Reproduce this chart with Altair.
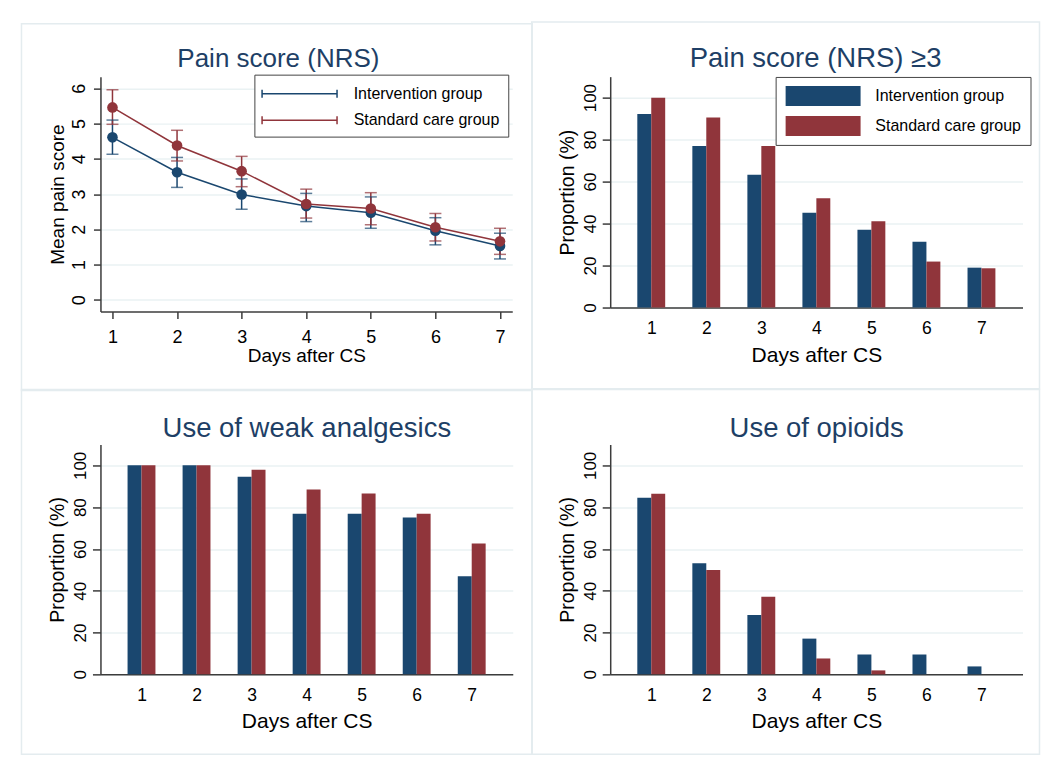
import altair as alt
import pandas as pd

# ---------------- data ----------------
days = [1, 2, 3, 4, 5, 6, 7]
groups = ["Intervention group", "Standard care group"]

pain_int_mean = [4.61, 3.62, 2.99, 2.66, 2.47, 1.96, 1.53]
pain_int_lo = [4.13, 3.19, 2.57, 2.22, 2.03, 1.56, 1.16]
pain_int_hi = [5.10, 4.04, 3.43, 3.02, 2.92, 2.33, 1.89]
pain_std_mean = [5.46, 4.38, 3.65, 2.72, 2.59, 2.06, 1.66]
pain_std_lo = [4.98, 3.94, 3.21, 2.32, 2.13, 1.67, 1.29]
pain_std_hi = [5.96, 4.81, 4.07, 3.14, 3.04, 2.45, 2.03]

nrs3_int = [92.2, 77.0, 63.3, 45.2, 37.1, 31.4, 19.0]
nrs3_std = [100.0, 90.5, 77.0, 52.1, 41.1, 21.9, 18.7]
weak_int = [100.0, 100.0, 94.5, 76.9, 76.9, 75.0, 46.9]
weak_std = [100.0, 100.0, 97.9, 88.4, 86.5, 76.9, 62.6]
opioid_int = [84.5, 53.2, 28.4, 17.1, 9.5, 9.5, 3.8]
opioid_std = [86.4, 49.9, 37.1, 7.6, 1.9, 0.0, 0.0]

pct_ticks = [0, 20, 40, 60, 80, 100]
pain_ticks = [0, 1, 2, 3, 4, 5, 6]

# ---------------- style ----------------
FONT = "Liberation Sans"
NAVY = "#1a476f"
MAROON = "#90353b"
TITLE_COLOR = "#1e3f66"
FRAME = "#e4ecef"
GRID = "#eaf2f3"
AXIS = "#3c3c3c"
BAR_W = 0.2533
SW = 1.5

dummy = pd.DataFrame({"k": [0]})
color_scale = alt.Scale(domain=groups, range=[NAVY, MAROON])


def box(l, r, t, b):
    return alt.Chart(dummy).mark_rect(fillOpacity=0, stroke=FRAME, strokeWidth=SW).encode(
        x=alt.value(l), x2=alt.value(r), y=alt.value(t), y2=alt.value(b))


def title_text(txt, x, y, size):
    return alt.Chart(dummy).mark_text(
        text=txt, font=FONT, fontSize=size, color=TITLE_COLOR,
        align="center", baseline="alphabetic").encode(x=alt.value(x), y=alt.value(y))


# ---------------- panel 1: pain score ----------------
pain = pd.DataFrame({
    "day": days * 2,
    "group": [groups[0]] * 7 + [groups[1]] * 7,
    "mean": pain_int_mean + pain_std_mean,
    "lo": pain_int_lo + pain_std_lo,
    "hi": pain_int_hi + pain_std_hi,
})

xs_tl = alt.Scale(domain=[0.814, 7.19], nice=False, zero=False)
ys_tl = alt.Scale(domain=[-0.332, 6.332], nice=False, zero=False)
ax_tl = alt.Axis(values=days, title="Days after CS", grid=False, tickSize=7,
                 labelFontSize=18, labelBaseline="alphabetic", labelPadding=23.7,
                 titleFontSize=19, titleY=50, titleBaseline="alphabetic")
ay_tl = alt.Axis(values=pain_ticks, title="Mean pain score", grid=True, tickSize=7,
                 labelFontSize=18, labelAngle=270, labelAlign="center",
                 labelBaseline="alphabetic", labelPadding=8.7,
                 titleFontSize=19, titleX=-36.7, titleBaseline="alphabetic")

legend_tl = alt.Legend(
    title=None, orient="none", legendX=154, legendY=-2, direction="vertical",
    symbolType="M-1.13,-0.4L-1.13,0.4M-1.13,0L6.37,0M6.37,-0.4L6.37,0.4",
    symbolSize=400, symbolStrokeWidth=1.5, labelFontSize=16, labelFont=FONT,
    labelColor="black", labelOffset=69.3, padding=8, rowPadding=7.7,
    strokeColor="#444444", fillColor="white")

col_leg = alt.Color("group:N", scale=color_scale, legend=legend_tl)
col_no = alt.Color("group:N", scale=color_scale, legend=None)
xq = alt.X("day:Q", scale=xs_tl, axis=ax_tl)

base = alt.Chart(pain)
err = base.mark_rule(strokeWidth=1.5).encode(
    x=xq, y=alt.Y("lo:Q", scale=ys_tl, axis=ay_tl), y2="hi:Q", color=col_leg)
cap_lo = base.mark_tick(orient="horizontal", size=12, thickness=1.5).encode(
    x=xq, y=alt.Y("lo:Q", scale=ys_tl, axis=ay_tl), color=col_no)
cap_hi = base.mark_tick(orient="horizontal", size=12, thickness=1.5).encode(
    x=xq, y=alt.Y("hi:Q", scale=ys_tl, axis=ay_tl), color=col_no)
line = base.mark_line(strokeWidth=1.5).encode(
    x=xq, y=alt.Y("mean:Q", scale=ys_tl, axis=ay_tl), color=col_no)
pts = base.mark_circle(size=113, opacity=1).encode(
    x=xq, y=alt.Y("mean:Q", scale=ys_tl, axis=ay_tl), color=col_no)

tl = alt.layer(
    box(-79, 432, -53, 314),
    title_text("Pain score (NRS)", 178, -9.5, 26),
    err, cap_lo, cap_hi, line, pts,
).properties(width=412, height=235)


# ---------------- bar panels ----------------
xs_bar = alt.Scale(domain=[0.345, 7.655], nice=False, zero=False)
ys_bar = alt.Scale(domain=[0, 110], nice=False, zero=False)


def bar_panel(int_vals, std_vals, title, box_x, box_y, title_x, title_y, height,
              legend, xtitle_y, xlabel_pad):
    df = pd.DataFrame({
        "day": days * 2,
        "group": [groups[0]] * 7 + [groups[1]] * 7,
        "value": int_vals + std_vals,
    })
    ax = alt.Axis(values=days, title="Days after CS", grid=False, ticks=False, tickSize=0,
                  labelFontSize=17.5, labelBaseline="alphabetic", labelPadding=xlabel_pad,
                  titleFontSize=21, titleY=xtitle_y, titleBaseline="alphabetic")
    ay = alt.Axis(values=pct_ticks, title="Proportion (%)", grid=True, tickSize=8,
                  labelFontSize=17, labelAngle=270, labelAlign="center",
                  labelBaseline="alphabetic", labelPadding=6.5,
                  titleFontSize=19.5, titleX=-36.6, titleBaseline="alphabetic")
    bars = alt.Chart(df).transform_calculate(
        x0=f"datum.group == '{groups[0]}' ? datum.day - {BAR_W} : datum.day",
        x1=f"datum.group == '{groups[0]}' ? datum.day : datum.day + {BAR_W}",
    ).mark_bar(orient="vertical", strokeWidth=0).encode(
        x=alt.X("x0:Q", scale=xs_bar, axis=ax),
        x2="x1:Q",
        y=alt.Y("value:Q", scale=ys_bar, axis=ay),
        color=alt.Color("group:N", scale=color_scale, legend=legend),
    )
    return alt.layer(
        box(box_x[0], box_x[1], box_y[0], box_y[1]),
        title_text(title, title_x, title_y, 27.5),
        bars,
    ).properties(width=412.5, height=height)


legend_tr = alt.Legend(
    title=None, orient="none", legendX=165.5, legendY=0.3, direction="vertical",
    symbolType="M-0.9,-1L6.6,-1L6.6,1L-0.9,1Z",
    symbolSize=400, symbolStrokeWidth=0, labelFontSize=16, labelFont=FONT,
    labelColor="black", labelOffset=70.7, padding=9, rowPadding=10,
    strokeColor="#444444", fillColor="white")

tr = bar_panel(nrs3_int, nrs3_std, "Pain score (NRS) \u22653", (-78.5, 429.5), (-54.7, 312.3),
               205.5, -10, 231, legend_tr, 54, 25.6)
bl = bar_panel(weak_int, weak_std, "Use of weak analgesics", (-79, 432), (-55, 310),
               206.5, -7, 230, None, 52.8, 26.4)
br = bar_panel(opioid_int, opioid_std, "Use of opioids", (-78.5, 429.5), (-55, 310),
               206.5, -7, 230, None, 52.8, 26.4)

chart = alt.concat(tl, tr, bl, br, columns=2, spacing=-3, align="each").resolve_scale(
    color="independent").resolve_legend(color="independent").properties(
    padding={"left": 12.5, "top": 12.5, "right": 0, "bottom": 0},
    background="white",
).configure_view(strokeWidth=0).configure_axis(
    labelFont=FONT, titleFont=FONT, labelColor="black", titleColor="black",
    titleFontWeight="normal", domainColor=AXIS, tickColor=AXIS,
    domainWidth=1.5, tickWidth=1.5, gridColor=GRID, gridWidth=1.5,
)

chart.save("out.html", embed_options={"renderer": "svg", "actions": False})
